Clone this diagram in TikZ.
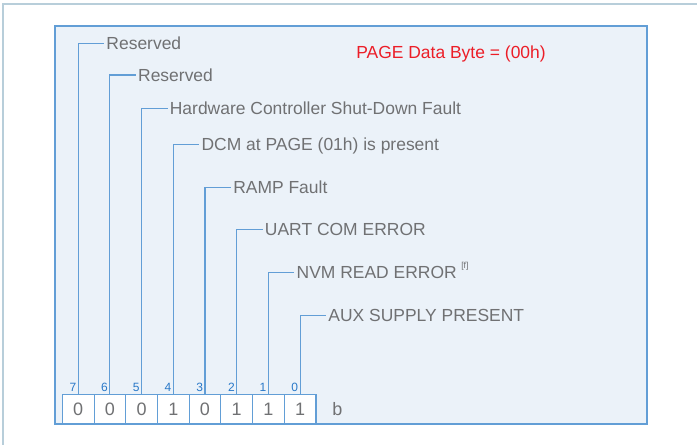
\documentclass[tikz,border=0pt]{standalone}
\usepackage{fontspec}
\setmainfont{Liberation Sans}
\definecolor{txtgray}{RGB}{112,113,115}
\definecolor{lineblue}{RGB}{98,158,214}
\definecolor{numblue}{RGB}{40,120,200}
\definecolor{panelfill}{RGB}{235,242,249}
\definecolor{framegray}{RGB}{184,206,218}
\definecolor{titlered}{RGB}{236,30,40}
\tikzset{
  fieldlbl/.style={anchor=west, inner sep=1.5pt, text=txtgray, font=\fontsize{13.1}{15}\selectfont, text height=9.3pt, text depth=0pt},
  bitbox/.style={draw=lineblue, line width=0.8pt, fill=white, inner sep=0pt, minimum width=23.8pt, minimum height=22.3pt, text=txtgray, font=\fontsize{13.5}{15}\selectfont, text height=9.7pt, text depth=0pt},
  bitnum/.style={anchor=south east, inner sep=0pt, text=numblue, font=\fontsize{9}{9}\selectfont, text depth=0pt, xshift=-1.3pt, yshift=1.5pt},
  leader/.style={draw=lineblue, line width=0.8pt}
}
\begin{document}
\begin{tikzpicture}[x=0.75pt,y=0.75pt,yscale=-1,xscale=1]
\useasboundingbox (0,0) rectangle (697,445);
% frame and panel
\draw [framegray, line width=1pt]  (3,445) -- (3,4) -- (697,4) ;
\draw [draw=lineblue, fill=panelfill, line width=0.8pt]  (55,26) rectangle (647,424) ;
\node [fieldlbl, text=titlered] (title) at (354,52.5) {PAGE Data Byte = (00h)};
% bit boxes
\node [bitbox] (b7) at (78.2,409.15) {0};
\node [bitbox] (b6) at (109.9,409.15) {0};
\node [bitbox] (b5) at (141.6,409.15) {0};
\node [bitbox] (b4) at (173.3,409.15) {1};
\node [bitbox] (b3) at (205,409.15) {0};
\node [bitbox] (b2) at (236.7,409.15) {1};
\node [bitbox] (b1) at (268.4,409.15) {1};
\node [bitbox] (b0) at (300.1,409.15) {1};
\node [fieldlbl, font=\fontsize{13.5}{15}\selectfont] (unit) at (330,409.15) {b};
% bit numbers
\node [bitnum] (n7) at (b7.north) {7};
\node [bitnum] (n6) at (b6.north) {6};
\node [bitnum] (n5) at (b5.north) {5};
\node [bitnum] (n4) at (b4.north) {4};
\node [bitnum] (n3) at (b3.north) {3};
\node [bitnum] (n2) at (b2.north) {2};
\node [bitnum] (n1) at (b1.north) {1};
\node [bitnum] (n0) at (b0.north) {0};
% field labels
\node [fieldlbl] (l7) at (104.2,43.3) {Reserved};
\node [fieldlbl] (l6) at (135.9,75) {Reserved};
\node [fieldlbl] (l5) at (167.6,108.3) {Hardware Controller Shut-Down Fault};
\node [fieldlbl] (l4) at (199.3,144.3) {DCM at PAGE (01h) is present};
\node [fieldlbl] (l3) at (231,187.3) {RAMP Fault};
\node [fieldlbl] (l2) at (262.7,229.3) {UART COM ERROR};
\node [fieldlbl] (l1) at (294.4,272.3) {NVM READ ERROR};
\node [fieldlbl] (l0) at (326.1,315.6) {AUX SUPPLY PRESENT};
\node [anchor=north west, inner sep=0pt, text=txtgray, font=\fontsize{6.5}{7}\selectfont] (note) at ([xshift=1.5pt,yshift=-1.2pt]l1.north east) {[f]};
% leaders
\draw [leader]  (b7.north) |- (l7.west) ;
\draw [leader]  (b6.north) |- (l6.west) ;
\draw [leader]  (b5.north) |- (l5.west) ;
\draw [leader]  (b4.north) |- (l4.west) ;
\draw [leader]  (b3.north) |- (l3.west) ;
\draw [leader]  (b2.north) |- (l2.west) ;
\draw [leader]  (b1.north) |- (l1.west) ;
\draw [leader]  (b0.north) |- (l0.west) ;
\end{tikzpicture}
\end{document}
